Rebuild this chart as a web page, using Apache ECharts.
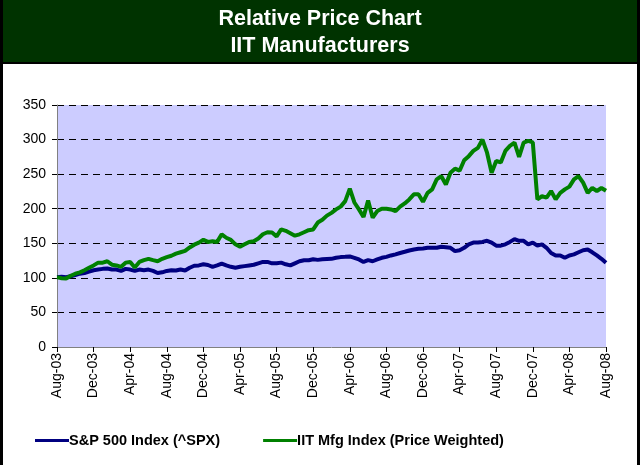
<!DOCTYPE html>
<html>
<head>
<meta charset="utf-8">
<script src="https://cdn.jsdelivr.net/npm/echarts@6/dist/echarts.min.js"></script>
<style>
  html, body { margin: 0; padding: 0; background: #fff; }
  #chart { width: 640px; height: 465px; }
</style>
</head>
<body>
<div id="chart"></div>
<script>
// half-month samples, first one is Aug-03
var stepMonths = 0.5;
var monthNames = ['Jan', 'Feb', 'Mar', 'Apr', 'May', 'Jun', 'Jul', 'Aug', 'Sep', 'Oct', 'Nov', 'Dec'];

var spx = [
    101, 101.5, 101, 102.4, 104, 106, 107, 109, 111, 112,
    113, 113.5, 112, 112, 110, 113, 112, 110, 112, 111,
    112, 110, 107, 108, 110, 111, 110.6, 112, 110.6, 114.6,
    117.5, 118, 119.6, 118.6, 116, 118, 120.5, 118, 116, 114.7,
    116, 117, 118, 119, 121, 123, 123, 121, 121, 122,
    119.6, 118, 121, 124, 125.4, 125.4, 126.8, 126, 126.8, 127.2,
    127.5, 129, 130, 130.4, 131, 129, 126.6, 123, 125.6, 124,
    126.6, 129, 130.4, 132.4, 134, 136, 137.7, 139.6, 141, 142,
    142.5, 143.5, 143.5, 143.5, 145, 144.4, 143.5, 138.6, 140, 143.5,
    148.5, 151, 151, 152, 153.6, 151, 146.6, 146.6, 148.5, 152,
    156, 153.6, 153.6, 148.5, 151, 146.6, 148.5, 143.5, 136, 132.4,
    132.4, 129, 132.4, 134, 137, 140, 141, 137, 132.4, 127.5,
    121.7
];

var iitMfg = [
    101, 99.5, 99, 103, 106, 108, 111, 114.5, 118, 122,
    122, 124, 119, 118, 116, 122, 123, 115, 123, 125.6,
    127.5, 125.6, 124, 127.5, 130, 132, 135, 137, 139, 144,
    148, 151, 155, 152, 153, 152, 163, 158, 155, 148.5,
    145, 148.5, 152, 153, 157, 163, 166, 165.5, 160, 170,
    168, 164.5, 161, 163, 166, 169, 170, 180, 184, 190,
    194, 199, 203, 211, 229, 209, 199, 188, 212, 187,
    196.6, 200, 200, 199, 196.6, 203, 207.7, 213.5, 220.8, 221,
    210, 223, 228, 242.5, 247, 235, 252, 258, 255, 270,
    276, 283.6, 288, 300, 281, 252, 269, 267, 283.6, 291,
    295.6, 275, 295.6, 298, 296, 213.5, 218, 216, 225.6, 213.5,
    223, 228, 232, 242.5, 247, 237.7, 223, 230, 225.6, 230,
    226
];

function toPairs(values) {
    var res = [];
    for (var i = 0; i < values.length; i++) {
        res.push([i * stepMonths, values[i]]);
    }
    return res;
}

// month offset from Aug-03 -> "Aug-03"
function monthLabel(m) {
    var idx = 7 + m;
    var name = monthNames[idx % 12];
    var yr = 3 + Math.floor(idx / 12);
    return name + '-' + (yr < 10 ? '0' + yr : yr);
}

var myChart = echarts.init(document.getElementById('chart'));

var option = {
    animation: false,
    backgroundColor: '#fff',
    textStyle: { fontFamily: 'Liberation Sans, Arial, sans-serif' },
    graphic: [
        { type: 'rect', z: -1, shape: { x: 0, y: 0, width: 640, height: 62 }, style: { fill: '#003300' } },
        { type: 'rect', z: -1, shape: { x: 0, y: 62, width: 640, height: 2 }, style: { fill: '#000' } },
        { type: 'rect', z: 10, shape: { x: 0, y: 0, width: 3, height: 465 }, style: { fill: '#000' } },
        { type: 'rect', z: 10, shape: { x: 637, y: 0, width: 3, height: 465 }, style: { fill: '#000' } }
    ],
    title: {
        text: 'Relative Price Chart\nIIT Manufacturers',
        left: 'center',
        top: 1,
        textStyle: {
            color: '#fff',
            fontSize: 21.5,
            fontWeight: 'bold',
            lineHeight: 27,
            fontFamily: 'Liberation Sans, Arial, sans-serif'
        }
    },
    legend: {
        left: 30,
        top: 428,
        itemWidth: 34,
        itemHeight: 3,
        itemGap: 43,
        icon: 'rect',
        textStyle: {
            color: '#000',
            fontSize: 14.5,
            fontWeight: 'bold',
            padding: [0, 0, 0, -5]
        },
        data: ['S&P 500 Index (^SPX)', 'IIT Mfg Index (Price Weighted)']
    },
    grid: {
        left: 57,
        right: 34,
        top: 105,
        bottom: 118,
        show: true,
        backgroundColor: '#ccccff',
        borderWidth: 0
    },
    xAxis: {
        type: 'value',
        min: 0,
        max: 60,
        interval: 4,
        axisLine: { lineStyle: { color: '#808080', width: 1 } },
        axisTick: { show: true, length: 5, lineStyle: { color: '#000' } },
        splitLine: { show: false },
        axisLabel: {
            rotate: 90,
            fontSize: 14,
            color: '#000',
            margin: 6,
            formatter: function (v) { return monthLabel(v); }
        }
    },
    yAxis: {
        type: 'value',
        min: 0,
        max: 350,
        interval: 50,
        axisLine: { show: true, lineStyle: { color: '#808080', width: 1 } },
        axisTick: { show: true, length: 5, lineStyle: { color: '#000' } },
        splitLine: { show: true, lineStyle: { color: '#000', type: [7, 5], width: 1 } },
        axisLabel: { fontSize: 14, color: '#000', margin: 11 }
    },
    series: [
        {
            name: 'S&P 500 Index (^SPX)',
            type: 'line',
            showSymbol: false,
            color: '#000080',
            lineStyle: { width: 4, color: '#000080' },
            data: toPairs(spx)
        },
        {
            name: 'IIT Mfg Index (Price Weighted)',
            type: 'line',
            showSymbol: false,
            color: '#008000',
            lineStyle: { width: 4, color: '#008000' },
            data: toPairs(iitMfg)
        }
    ]
};

myChart.setOption(option);
window.addEventListener('resize', function () {
    myChart.resize();
});
</script>
</body>
</html>
